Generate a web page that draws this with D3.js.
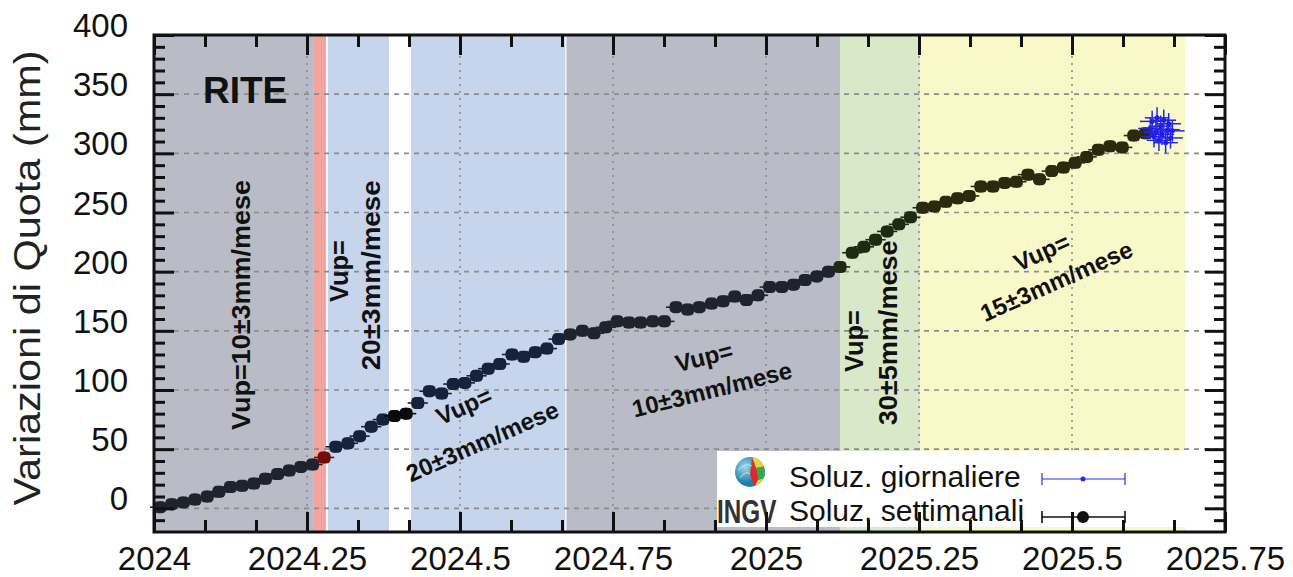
<!DOCTYPE html>
<html>
<head>
<meta charset="utf-8">
<script src="https://cdn.jsdelivr.net/npm/d3@7"></script>
<style>
  body { margin: 0; background: #fff; }
  svg { display: block; font-family: "Liberation Sans", Arial, sans-serif; }
</style>
</head>
<body>
<svg id="chart" width="1293" height="577"></svg>
<script>
// Weekly solutions: decimal year and height change (mm)
var weekT = [2024.010, 2024.029, 2024.048, 2024.067, 2024.087, 2024.106, 2024.125, 2024.144, 2024.163, 2024.182,
  2024.202, 2024.221, 2024.240, 2024.259, 2024.278, 2024.297, 2024.317, 2024.336, 2024.355, 2024.374,
  2024.393, 2024.412, 2024.431, 2024.450, 2024.470, 2024.489, 2024.508, 2024.527, 2024.546, 2024.565,
  2024.585, 2024.604, 2024.623, 2024.642, 2024.661, 2024.680, 2024.700, 2024.719, 2024.738, 2024.757,
  2024.776, 2024.795, 2024.815, 2024.834, 2024.853, 2024.872, 2024.891, 2024.911, 2024.930, 2024.949,
  2024.968, 2024.987, 2025.006, 2025.026, 2025.045, 2025.064, 2025.083, 2025.102, 2025.121, 2025.141,
  2025.160, 2025.179, 2025.198, 2025.217, 2025.236, 2025.256, 2025.275, 2025.294, 2025.313, 2025.332,
  2025.351, 2025.371, 2025.390, 2025.409, 2025.428, 2025.447, 2025.467, 2025.486, 2025.505, 2025.524,
  2025.543, 2025.562, 2025.582, 2025.601, 2025.620];
var weekV = [1, 3.5, 5, 7.5, 10, 14, 18, 19, 21, 25,
  29, 32, 35, 37, 43, 52, 55, 61, 69, 75,
  78, 80, 89, 99, 97, 105, 106, 112, 118, 122,
  130, 128, 132, 135, 143, 147, 150, 148, 153, 158,
  157, 157, 158, 158, 170, 168, 170, 173, 175, 179,
  176, 180, 187, 187, 189, 193, 196, 200, 204, 216,
  221, 227, 234, 240, 246, 254, 255, 259, 262, 264,
  272, 272, 275, 276, 282, 278, 285, 288, 292, 297,
  303, 306, 305, 315, 317];

// Daily solutions
var dayT = [2025.628, 2025.631, 2025.634, 2025.637, 2025.639, 2025.642, 2025.645,
  2025.647, 2025.650, 2025.653, 2025.656, 2025.658, 2025.661, 2025.664];
var dayV = [321, 327, 314, 318, 330, 311, 323, 316, 328, 309, 320, 325, 313, 319];

// Background periods
var bandStart = [2024.000, 2024.260, 2024.284, 2024.420, 2024.674, 2025.121, 2025.252];
var bandEnd = [2024.260, 2024.281, 2024.384, 2024.672, 2025.121, 2025.252, 2025.685];
var bandKind = ["gray", "red", "blue", "blue", "gray", "green", "yellow"];

// Axis ticks
var xTicks = [2024, 2024.25, 2024.5, 2024.75, 2025, 2025.25, 2025.5, 2025.75];
var xTickLabels = ["2024", "2024.25", "2024.5", "2024.75", "2025", "2025.25", "2025.5", "2025.75"];
var yTicks = [0, 50, 100, 150, 200, 250, 300, 350, 400];

// Annotation texts
var noteText = ["RITE", "Vup=10±3mm/mese", "Vup=", "20±3mm/mese", "Vup=", "20±3mm/mese",
  "Vup=", "10±3mm/mese", "Vup=", "30±5mm/mese", "Vup=", "15±3mm/mese"];

// ---- styles / layout ----
var bandFill = { gray: "#b9bcc6", red: "#f4a49e", blue: "#c6d4ec", green: "#d8e8c9", yellow: "#f9f8c8" };
var bandInk = { gray: "#1f232d", red: "#6e0e0e", blue: "#16213c", green: "#1f2a12", yellow: "#2b2a0e", none: "#0a0a0a" };

var noteLayout = [
  { t: 2024.080, v: 342.4, rot: 0, size: 37, anchor: "start" },
  { t: 2024.157, v: 171.8, rot: -90, size: 25, len: 250 },
  { t: 2024.317, v: 200.5, rot: -90, size: 25, len: 62 },
  { t: 2024.369, v: 197.0, rot: -90, size: 25, len: 190 },
  { t: 2024.512, v: 80.0, rot: -24, size: 24 },
  { t: 2024.542, v: 50.0, rot: -24, size: 24 },
  { t: 2024.902, v: 121.0, rot: -14, size: 24 },
  { t: 2024.915, v: 93.5, rot: -14, size: 24 },
  { t: 2025.158, v: 141.4, rot: -90, size: 25, len: 62 },
  { t: 2025.214, v: 148.3, rot: -90, size: 25, len: 185 },
  { t: 2025.456, v: 210.0, rot: -24, size: 24 },
  { t: 2025.480, v: 185.5, rot: -24, size: 24 }
];

var padL = 154, padR = 1225, padT = 35, padB = 532;

var x = d3.scaleLinear().domain([2024, 2025.75]).range([padL, padR]);
var y = d3.scaleLinear().domain([-20, 400]).range([padB, padT]);

var svg = d3.select("#chart");

// bands
var bands = bandStart.map(function(s, i) {
  return { s: s, e: bandEnd[i], kind: bandKind[i] };
});
svg.append("g").selectAll("rect")
  .data(bands)
  .enter().append("rect")
  .attr("x", function(d) { return x(d.s); })
  .attr("width", function(d) { return x(d.e) - x(d.s); })
  .attr("y", padT)
  .attr("height", padB - padT)
  .attr("fill", function(d) { return bandFill[d.kind]; });

function bandOf(t) {
  for (var i = 0; i < bands.length; i++) {
    if (t >= bands[i].s && t < bands[i].e) return bands[i].kind;
  }
  return "none";
}

// grid
var grid = svg.append("g");
grid.selectAll("line.h")
  .data(yTicks.filter(function(v) { return v < 400; }))
  .enter().append("line")
  .attr("x1", padL).attr("x2", padR)
  .attr("y1", function(d) { return y(d); }).attr("y2", function(d) { return y(d); })
  .attr("stroke", "#8c8c8c").attr("stroke-width", 1.6).attr("stroke-dasharray", "5,5");
grid.selectAll("line.v")
  .data(xTicks.slice(1, -1))
  .enter().append("line")
  .attr("x1", function(d) { return x(d); }).attr("x2", function(d) { return x(d); })
  .attr("y1", padT).attr("y2", padB)
  .attr("stroke", "#8c8c8c").attr("stroke-width", 1.6).attr("stroke-dasharray", "2,5");

// weekly points
var week = weekT.map(function(t, i) { return { t: t, v: weekV[i] }; });
var wk = svg.append("g").selectAll("g")
  .data(week)
  .enter().append("g")
  .attr("stroke", function(d) { return bandInk[bandOf(d.t)]; })
  .attr("fill", function(d) { return bandInk[bandOf(d.t)]; });
wk.append("line")
  .attr("x1", function(d) { return x(d.t - 0.0165); })
  .attr("x2", function(d) { return x(d.t + 0.0165); })
  .attr("y1", function(d) { return y(d.v); })
  .attr("y2", function(d) { return y(d.v); })
  .attr("stroke-width", 1.6);
wk.append("line")
  .attr("x1", function(d) { return x(d.t); })
  .attr("x2", function(d) { return x(d.t); })
  .attr("y1", function(d) { return y(d.v - 5); })
  .attr("y2", function(d) { return y(d.v + 5); })
  .attr("stroke-width", 1.6);
wk.append("rect")
  .attr("x", function(d) { return x(d.t) - 6.5; })
  .attr("y", function(d) { return y(d.v) - 6; })
  .attr("width", 13).attr("height", 12)
  .attr("rx", 4.5)
  .attr("stroke", "none");

// daily points
var day = dayT.map(function(t, i) { return { t: t, v: dayV[i] }; });
var dy = svg.append("g").attr("stroke", "#2626ea").attr("fill", "#2020e0").selectAll("g")
  .data(day)
  .enter().append("g");
dy.append("line")
  .attr("x1", function(d) { return x(d.t - 0.02); })
  .attr("x2", function(d) { return x(d.t + 0.02); })
  .attr("y1", function(d) { return y(d.v); })
  .attr("y2", function(d) { return y(d.v); })
  .attr("stroke-width", 1.5);
dy.append("line")
  .attr("x1", function(d) { return x(d.t); })
  .attr("x2", function(d) { return x(d.t); })
  .attr("y1", function(d) { return y(d.v - 9); })
  .attr("y2", function(d) { return y(d.v + 9); })
  .attr("stroke-width", 1.5);
dy.append("circle")
  .attr("cx", function(d) { return x(d.t); })
  .attr("cy", function(d) { return y(d.v); })
  .attr("r", 2.5)
  .attr("stroke", "none");

// annotations
noteText.forEach(function(txt, i) {
  var l = noteLayout[i];
  var t = svg.append("text")
    .attr("transform", "translate(" + x(l.t) + "," + y(l.v) + ") rotate(" + l.rot + ")")
    .attr("text-anchor", l.anchor || "middle")
    .attr("font-size", l.size)
    .attr("font-weight", "bold")
    .attr("fill", "#111")
    .text(txt);
  if (l.len) t.attr("textLength", l.len).attr("lengthAdjust", "spacingAndGlyphs");
});

// legend
var lg = svg.append("g");
lg.append("rect").attr("x", 717).attr("y", 451).attr("width", 483).attr("height", 76).attr("fill", "#fff");
var defs = svg.append("defs");
defs.append("clipPath").attr("id", "globe").append("circle").attr("cx", 750).attr("cy", 472).attr("r", 15);
var grad = defs.append("radialGradient").attr("id", "sea").attr("cx", "35%").attr("cy", "35%");
grad.append("stop").attr("offset", "0%").attr("stop-color", "#9fd6e8");
grad.append("stop").attr("offset", "100%").attr("stop-color", "#1f7ea6");
var globe = lg.append("g").attr("clip-path", "url(#globe)");
globe.append("rect").attr("x", 734).attr("y", 456).attr("width", 32).attr("height", 32).attr("fill", "url(#sea)");
globe.append("path").attr("d", "M752,456 L766,456 L766,466 L756,468 Z").attr("fill", "#e9d23a");
globe.append("path").attr("d", "M756,468 L766,466 L766,478 L758,480 Z").attr("fill", "#3aa64a");
globe.append("path").attr("d", "M752,458 L756,468 L758,480 L754,486 L750,474 Z").attr("fill", "#e2262c");
globe.append("path").attr("d", "M758,480 L766,478 L766,488 L754,488 Z").attr("fill", "#e9d23a");
globe.append("path").attr("d", "M738,470 Q746,462 752,466 M740,478 Q746,470 750,474").attr("fill", "none").attr("stroke", "#d8f0f8").attr("stroke-width", 0.8);
lg.append("text").attr("transform", "translate(717,523) scale(0.9,1.25)")
  .attr("font-size", 27).attr("font-weight", "bold")
  .attr("fill", "#333").text("INGV");
lg.append("text").attr("x", 789).attr("y", 487).attr("font-size", 30).attr("fill", "#111").text("Soluz. giornaliere");
lg.append("text").attr("x", 789).attr("y", 521).attr("font-size", 30).attr("fill", "#111").text("Soluz. settimanali");
[{ yy: 479, c: "#2a2ae6", r: 2.5, w: 1.2 }, { yy: 517, c: "#111", r: 6, w: 1.6 }].forEach(function(s) {
  var g = lg.append("g").attr("stroke", s.c).attr("stroke-width", s.w);
  g.append("line").attr("x1", 1042).attr("x2", 1125).attr("y1", s.yy).attr("y2", s.yy);
  g.append("line").attr("x1", 1042).attr("x2", 1042).attr("y1", s.yy - 6).attr("y2", s.yy + 6);
  g.append("line").attr("x1", 1125).attr("x2", 1125).attr("y1", s.yy - 6).attr("y2", s.yy + 6);
  g.append("circle").attr("cx", 1083).attr("cy", s.yy).attr("r", s.r).attr("fill", s.c).attr("stroke", "none");
});

// axes
var yMinor = d3.range(-10, 400, 10).filter(function(v) { return v % 50 !== 0; });
var xMinor = d3.range(1, 21).map(function(k) { return 2024 + k / 12; })
  .filter(function(v, i) { return (i + 1) % 3 !== 0; });

function styleAxis(g) {
  g.select(".domain").remove();
  g.selectAll(".tick line").attr("stroke", "#111").attr("stroke-width", 3);
  g.selectAll(".tick text").attr("fill", "#111").attr("font-size", 33)
    .attr("font-family", "'Liberation Sans', Arial, sans-serif");
}

svg.append("g").attr("transform", "translate(" + padL + ",0)")
  .call(d3.axisLeft(y).tickValues(yTicks).tickSize(-20).tickPadding(26).tickFormat(d3.format("d")))
  .call(styleAxis)
  .selectAll(".tick text").attr("dy", "0.05em");
svg.append("g").attr("transform", "translate(" + padL + ",0)")
  .call(d3.axisLeft(y).tickValues(yMinor).tickSize(-11).tickFormat(""))
  .call(styleAxis);
svg.append("g").attr("transform", "translate(" + padR + ",0)")
  .call(d3.axisRight(y).tickValues(yTicks).tickSize(-20).tickFormat(""))
  .call(styleAxis);
svg.append("g").attr("transform", "translate(" + padR + ",0)")
  .call(d3.axisRight(y).tickValues(yMinor).tickSize(-11).tickFormat(""))
  .call(styleAxis);
svg.append("g").attr("transform", "translate(0," + padB + ")")
  .call(d3.axisBottom(x).tickValues(xTicks).tickSize(-20).tickPadding(15)
    .tickFormat(function(d, i) { return xTickLabels[i]; }))
  .call(styleAxis);
svg.append("g").attr("transform", "translate(0," + padB + ")")
  .call(d3.axisBottom(x).tickValues(xMinor).tickSize(-12).tickFormat(""))
  .call(styleAxis);
svg.append("g").attr("transform", "translate(0," + padT + ")")
  .call(d3.axisTop(x).tickValues(xTicks).tickSize(-20).tickFormat(""))
  .call(styleAxis);
svg.append("g").attr("transform", "translate(0," + padT + ")")
  .call(d3.axisTop(x).tickValues(xMinor).tickSize(-12).tickFormat(""))
  .call(styleAxis);

// frame
svg.append("rect").attr("x", padL).attr("y", padT).attr("width", padR - padL).attr("height", padB - padT)
  .attr("fill", "none").attr("stroke", "#111").attr("stroke-width", 3);

// y title
svg.append("text")
  .attr("transform", "translate(40,278) rotate(-90)")
  .attr("text-anchor", "middle")
  .attr("font-size", 36)
  .attr("fill", "#222")
  .attr("textLength", 455).attr("lengthAdjust", "spacingAndGlyphs")
  .text("Variazioni di Quota (mm)");
</script>
</body>
</html>
